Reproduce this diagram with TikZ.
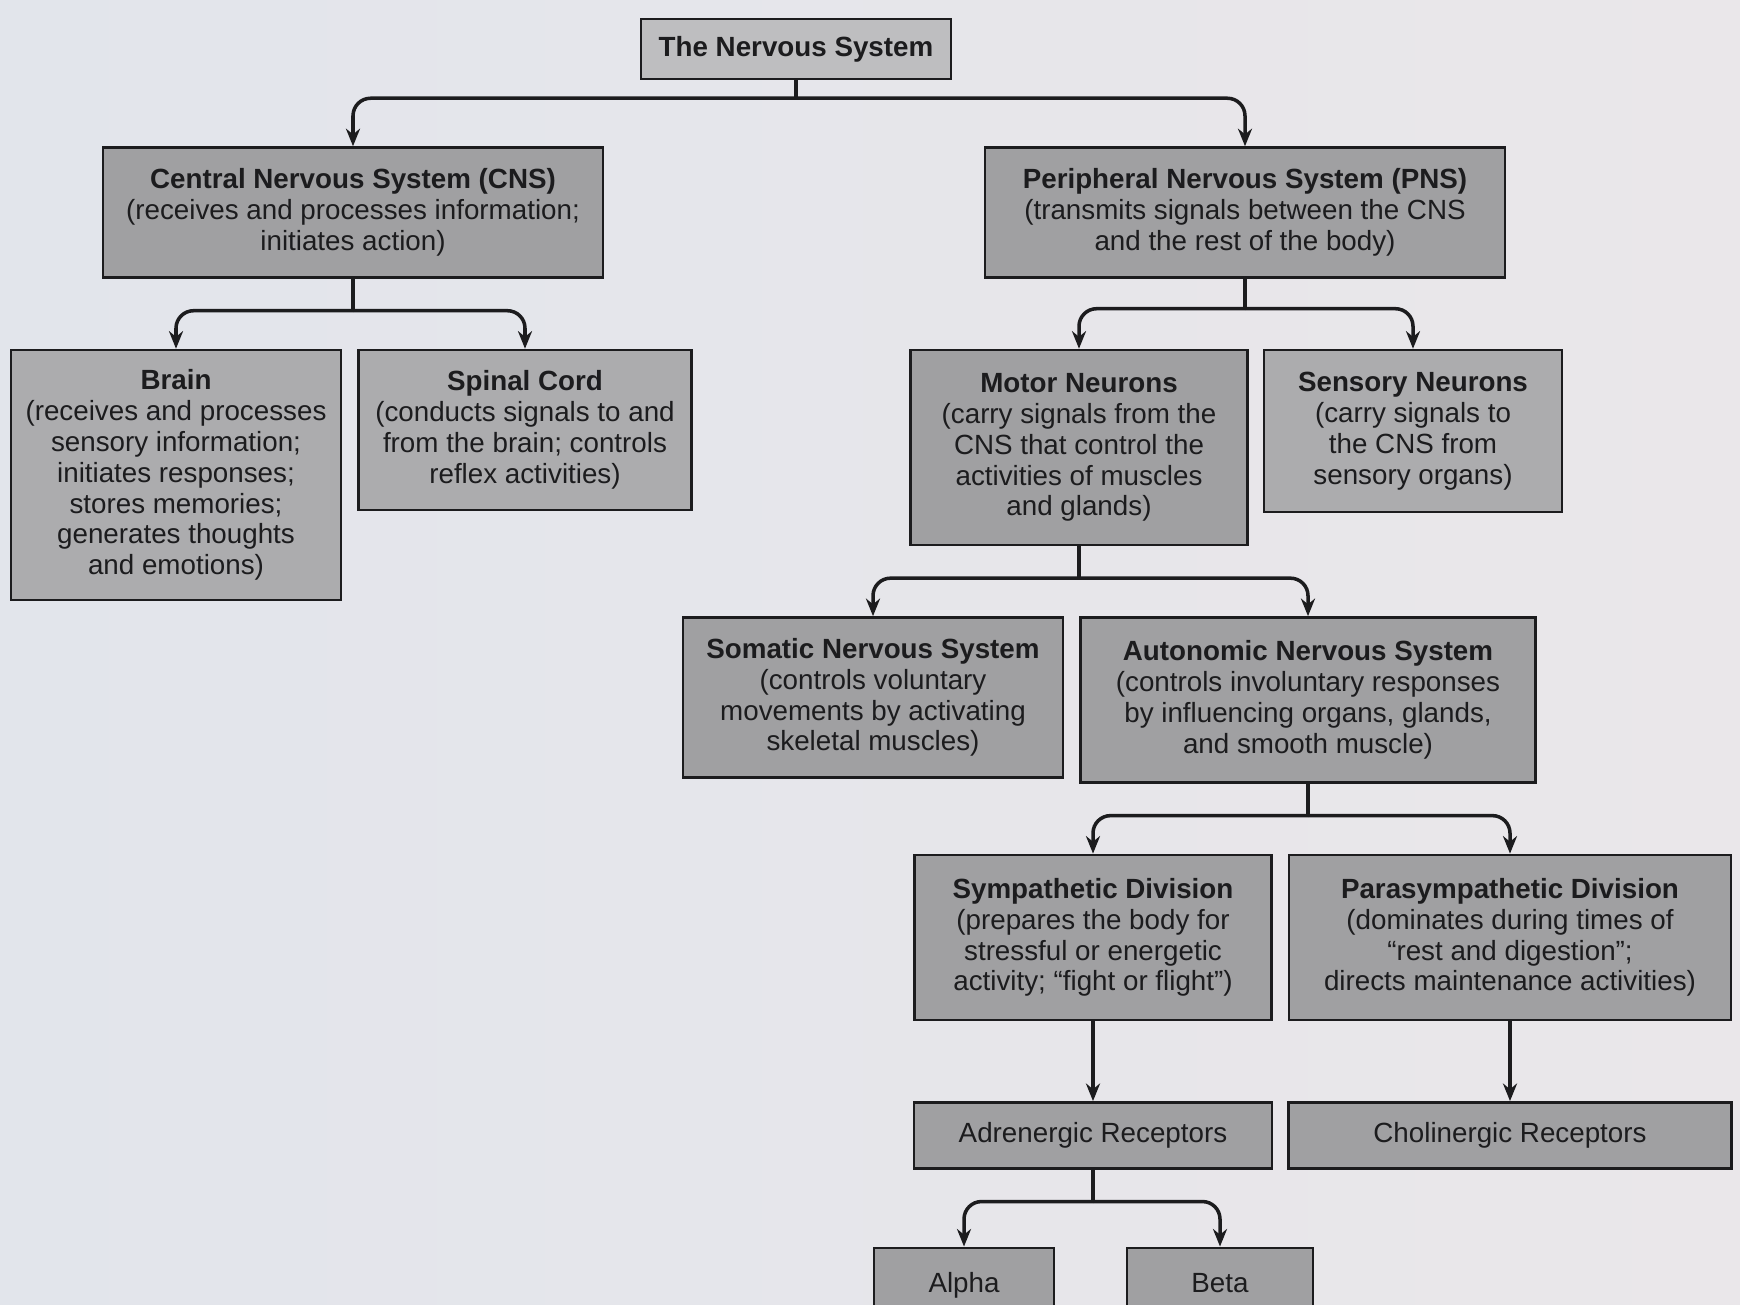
\documentclass[tikz,border=0pt]{standalone}
\usepackage{fontspec}
\setmainfont{Liberation Sans}
\usepackage{tikz}
\usetikzlibrary{positioning, arrows.meta}
\definecolor{paperleft}{RGB}{226,229,235}
\definecolor{paperright}{RGB}{234,231,234}
\definecolor{boxgray}{RGB}{160,160,162}
\definecolor{boxlight}{RGB}{172,172,174}
\definecolor{rootgray}{RGB}{190,190,192}
\definecolor{ink}{RGB}{28,28,30}
\tikzset{
	node distance=0.7cm and 0.2cm,
	every text node part/.style= {
		align=center
	},
	box/.style= {
		rectangle,
		draw=ink,
		line width=0.7pt,
		fill=boxgray,
		text=ink,
		inner sep=2pt,
		font=\fontsize{7.9}{8.8}\selectfont
	},
	lightbox/.style= {
		box,
		fill=boxlight
	},
	link/.style= {
		draw=ink,
		line width=1pt,
		rounded corners=5pt
	},
	>={Stealth[length=5pt, width=4pt]}
}

\begin{document}
\begin{tikzpicture}

	\useasboundingbox (0,0) rectangle (17.4,-13.04);
	\shade[left color=paperleft, right color=paperright] (0,0) rectangle (17.4,-13.04);

	\node (root)[box, fill=rootgray, minimum width=3.1cm, minimum height=0.6cm] at (7.96,-0.49) {\textbf{The Nervous System}};

	\node (cns)[box, below=0.66cm of root, xshift=-4.43cm, minimum width=5cm, minimum height=1.3cm]
		{\textbf{Central Nervous System (CNS)}\\(receives and processes information;\\initiates action)};
	\node (pns)[box, below=0.66cm of root, xshift=4.49cm, minimum width=5.2cm, minimum height=1.3cm]
		{\textbf{Peripheral Nervous System (PNS)}\\(transmits signals between the CNS\\and the rest of the body)};

	\node (brain)[lightbox, below=of cns, xshift=-1.77cm, minimum width=3.3cm, minimum height=2.5cm]
		{\textbf{Brain}\\(receives and processes\\sensory information;\\initiates responses;\\stores memories;\\generates thoughts\\and emotions)};
	\node (spinal)[lightbox, below=of cns, xshift=1.72cm, minimum width=3.33cm, minimum height=1.6cm]
		{\textbf{Spinal Cord}\\(conducts signals to and\\from the brain; controls\\reflex activities)};

	\node (motor)[box, below=of pns, xshift=-1.66cm, minimum width=3.37cm, minimum height=1.95cm]
		{\textbf{Motor Neurons}\\(carry signals from the\\CNS that control the\\activities of muscles\\and glands)};
	\node (sensory)[lightbox, below=of pns, xshift=1.68cm, minimum width=2.98cm, minimum height=1.62cm]
		{\textbf{Sensory Neurons}\\(carry signals to\\the CNS from\\sensory organs)};

	\node (somatic)[box, below=of motor, xshift=-2.06cm, minimum width=3.8cm, minimum height=1.6cm]
		{\textbf{Somatic Nervous System}\\(controls voluntary\\movements by activating\\skeletal muscles)};
	\node (auto)[box, below=of motor, xshift=2.29cm, minimum width=4.55cm, minimum height=1.65cm]
		{\textbf{Autonomic Nervous System}\\(controls involuntary responses\\by influencing organs, glands,\\and smooth muscle)};

	\node (symp)[box, below=of auto, xshift=-2.15cm, minimum width=3.57cm, minimum height=1.65cm]
		{\textbf{Sympathetic Division}\\(prepares the body for\\stressful or energetic\\activity; “fight or flight”)};
	\node (para)[box, below=of auto, xshift=2.02cm, minimum width=4.42cm, minimum height=1.65cm]
		{\textbf{Parasympathetic Division}\\(dominates during times of\\“rest and digestion”;\\directs maintenance activities)};

	\node (adren)[box, below=0.8cm of symp, minimum width=3.58cm, minimum height=0.66cm] {Adrenergic Receptors};
	\node (chol)[box, below=0.8cm of para, minimum width=4.43cm, minimum height=0.66cm] {Cholinergic Receptors};

	\node (alpha)[box, below=0.77cm of adren, xshift=-1.29cm, minimum width=1.8cm, minimum height=0.75cm] {Alpha};
	\node (beta)[box, below=0.77cm of adren, xshift=1.27cm, minimum width=1.86cm, minimum height=0.7cm] {Beta};

	% branch points under each parent
	\foreach \up/\drop in {root/0.18, cns/0.32, pns/0.30, motor/0.32, auto/0.32, adren/0.32}
	{
		\coordinate (\up-split) at ([yshift=-\drop cm]\up.south);
		\draw[link] (\up.south) -- (\up-split);
	}

	\foreach \up/\down in {root/cns, root/pns, cns/brain, cns/spinal, pns/motor, pns/sensory,
		motor/somatic, motor/auto, auto/symp, auto/para, adren/alpha, adren/beta}
	{
		\draw[link, ->] (\up-split) -| (\down.north);
	}

	\draw[link, ->] (symp) -- (adren);
	\draw[link, ->] (para) -- (chol);

\end{tikzpicture}
\end{document}
